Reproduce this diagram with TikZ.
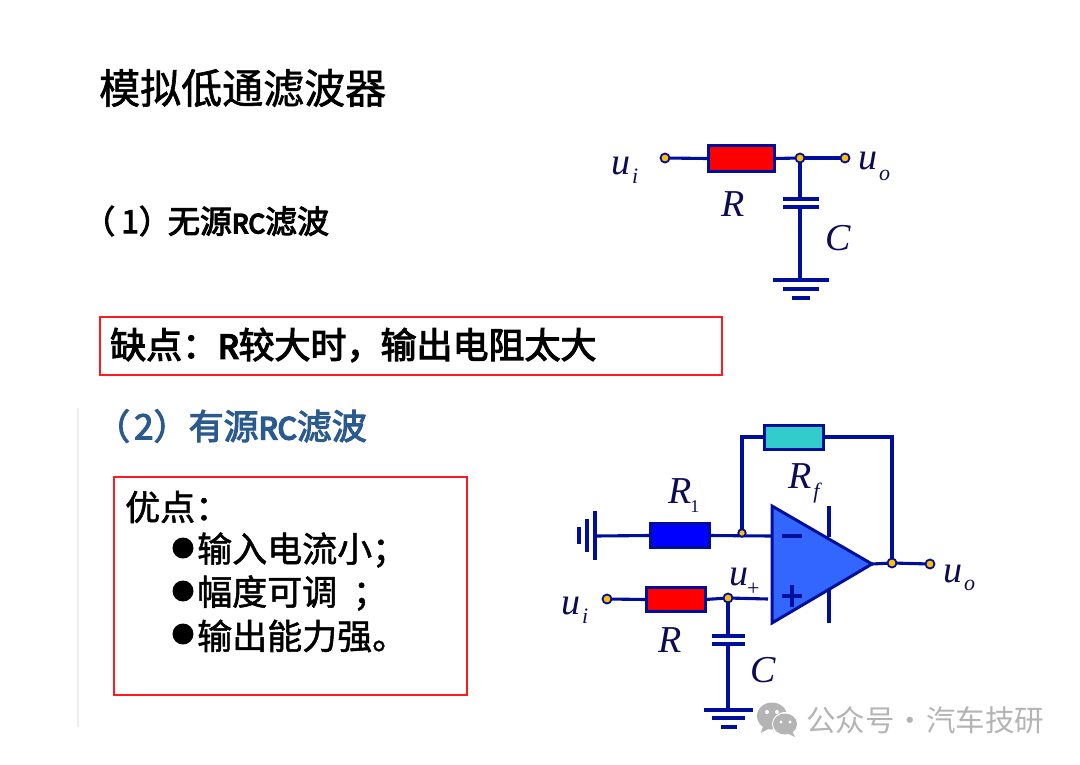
\documentclass[tikz,border=0pt]{standalone}
\usepackage{fontspec}
\setmainfont{Liberation Serif}
\newfontfamily\cjklight{Noto Sans CJK SC}
\newfontfamily\cjk[FakeBold=1.5]{Noto Sans CJK SC}
\newfontfamily\cjkb[FakeBold=3]{Noto Sans CJK SC}
\newfontfamily\cjkbb[FakeBold=6]{Noto Sans CJK SC}
\usetikzlibrary{backgrounds}
\definecolor{wire}{HTML}{000E9C}
\definecolor{dot}{HTML}{FFC000}
\definecolor{ink}{HTML}{0C0C55}
\definecolor{headblue}{HTML}{2B5A8E}
\definecolor{boxred}{HTML}{FF1A1F}
\definecolor{opblue}{HTML}{3366FF}
\definecolor{markgray}{HTML}{B4B4B4}
\newcommand{\lab}[3]{{\fontsize{38}{38}\selectfont\itshape #1}\kern2pt\raisebox{#3}{\fontsize{22}{22}\selectfont\itshape #2}}
\tikzset{
  x=1pt,y=-1pt,
  wireline/.style={draw=wire,line width=3.1pt},
  res/.style={draw=wire,line width=3pt,minimum width=59pt,minimum height=24pt,inner sep=0pt,outer sep=0pt},
  junction/.style={circle,draw=wire,fill=dot,line width=1.8pt,minimum size=9pt,inner sep=0pt,outer sep=0pt},
  elabel/.style={anchor=base west,inner sep=0pt,text=ink},
  plain/.style={anchor=west,inner sep=0pt,text=black},
  redbox/.style={draw=boxred,line width=1.5pt},
}
\begin{document}
\begin{tikzpicture}
\useasboundingbox (0,0) rectangle (1080,764);
\begin{scope}[on background layer]
\fill[white] (0,0) rectangle (1080,764);
\end{scope}
\draw[color=black!7,line width=1.5pt] (78,408) -- (78,727);

% texts
\node[plain] (title) at (99,88) {\cjk\fontsize{41}{41}\selectfont 模拟低通滤波器};
\node[plain] (one) at (83,221) {\cjkb\fontsize{32}{32}\selectfont （\kern6pt1）\kern-3pt无源{\cjkbb\fontsize{26}{26}\selectfont RC}滤波};
\node[plain,text=headblue] (two) at (95,426) {\cjkb\fontsize{35}{35}\selectfont （\kern4pt2）有源{\cjkbb\fontsize{30}{30}\selectfont RC}滤波};
\draw[redbox] (100,317) rectangle (722,375);
\node[plain] (weak) at (110,345) {\cjkb\fontsize{36}{36}\selectfont 缺点：{\cjkbb\fontsize{32}{32}\selectfont R}较大时，\kern-2pt输出电阻太大};
\draw[redbox] (114,477) rectangle (467,695);
\node[plain] (adv) at (125,507) {\cjk\fontsize{35}{35}\selectfont 优点：};
\foreach \yy/\tt in {549/输入电流小；,592/幅度可调\ \ ；,635/输出能力强。}{
  \fill (183,\yy-1) circle (10.5);
  \node[plain] at (197,\yy+1) {\cjk\fontsize{35}{35}\selectfont \tt};
}

% circuit 1
\node[junction] (a1) at (665,158) {};
\node[res,fill=red,minimum width=66pt,minimum height=26pt] (ra) at (741,158.5) {};
\node[junction] (a2) at (800,158) {};
\node[junction] (a3) at (845,158) {};
\coordinate (acu) at (800,199);
\coordinate (acl) at (800,207);
\coordinate (ag) at (800,280);
\draw[wireline] (a1) -- (ra.west);
\draw[wireline] (ra.east) -- (a2);
\draw[wireline] (a2) -- (a3);
\draw[wireline] (a2) -- (acu);
\draw[wireline] (acl) -- (ag);
\draw[wireline] (783,199) -- (819,199);
\draw[wireline] (783,207) -- (819,207);
\draw[wireline] (773,280) -- (829,280);
\draw[wireline] (783,289) -- (819,289);
\draw[wireline] (792,298) -- (810,298);
\node[elabel] (aui) at (611,174) {\lab{u}{i}{-9pt}};
\node[elabel] (auo) at (858,169) {\lab{u}{o}{-11pt}};
\node[elabel] (aR) at (721,216) {\fontsize{38}{38}\selectfont\itshape R};
\node[elabel] (aC) at (825,250) {\fontsize{38}{38}\selectfont\itshape C};

% circuit 2
\node[res,fill=blue] (r1) at (679.5,535.5) {};
\node[res,fill=red] (r2) at (675.5,599.5) {};
\node[res,fill={rgb,255:red,51;green,204;blue,204}] (rf) at (793.5,437) {};
\node[junction,minimum size=7.5pt] (b1) at (742,533) {};
\node[junction] (b2) at (607,599) {};
\node[junction] (b3) at (728,598) {};
\node[junction] (b4) at (892,563) {};
\node[junction] (b5) at (930,564) {};
\coordinate (opa) at (772,506);
\coordinate (opb) at (772,623);
\coordinate (opc) at (872,564);
\coordinate (opm) at (772,536);
\coordinate (opp) at (768,599);
\coordinate (gl) at (595,536);
\coordinate (bcu) at (728,636);
\coordinate (bcl) at (728,644);
\coordinate (bg) at (728,710);
\coordinate (fbr) at (892,437);
\begin{scope}[on background layer]
\draw[wireline] (gl) -- (r1.west);
\draw[wireline] (r1.east) -- (opm);
\end{scope}
\draw[wireline,line join=miter] (b1) |- (rf.west);
\draw[wireline,line join=miter] (rf.east) -- (fbr) -- (b4);
\draw[wireline] (opc) -- (b4);
\draw[wireline] (b4) -- (b5);
\draw[wireline] (b2) -- (r2.west);
\draw[wireline] (r2.east) -- (b3);
\draw[wireline] (b3) -- (opp);
\draw[wireline] (b3) -- (bcu);
\draw[wireline] (bcl) -- (bg);
\draw[wireline] (712,636) -- (745,636);
\draw[wireline] (712,644) -- (745,644);
\draw[wireline] (704,710) -- (753,710);
\draw[wireline] (712,718) -- (745,718);
\draw[wireline] (721,727) -- (737,727);
\draw[wireline] (595,511) -- (595,560);
\draw[wireline] (587,519) -- (587,552);
\draw[wireline] (579,527) -- (579,544);
\draw[wireline] (829,506) -- (829,537);
\draw[wireline] (829,590) -- (829,623);
\draw[draw=wire,fill=opblue,line width=3pt,line join=miter] (opa) -- (opc) -- (opb) -- cycle;
\draw[wire,line width=4pt] (782,536) -- (802,536);
\draw[wire,line width=4pt] (782,596) -- (802,596);
\draw[wire,line width=4pt] (792,585) -- (792,607);
\node[elabel] (bR1) at (668,503) {\fontsize{38}{38}\selectfont\itshape R\kern-1pt\raisebox{-9pt}{\fontsize{18}{18}\selectfont\upshape 1}};
\node[elabel] (bRf) at (788,488) {\lab{R}{f}{-10pt}};
\node[elabel] (bup) at (729,585) {{\fontsize{38}{38}\selectfont\itshape u}\kern-1pt\raisebox{-10pt}{\fontsize{22}{22}\selectfont +}};
\node[elabel] (bui) at (561,614) {\lab{u}{i}{-9pt}};
\node[elabel] (buo) at (943,582) {\lab{u}{o}{-8pt}};
\node[elabel] (bR) at (658,652) {\fontsize{38}{38}\selectfont\itshape R};
\node[elabel] (bC) at (750,682) {\fontsize{38}{38}\selectfont\itshape C};

% watermark
\fill[markgray] (772,716) ellipse (15 and 13.5);
\fill[markgray] (763,726) -- (761,733) -- (770,728) -- cycle;
\fill[white] (785.5,724) ellipse (13.5 and 12);
\fill[markgray] (785,724) ellipse (12 and 10.5);
\fill[markgray] (792,731) -- (795,737) -- (787,733) -- cycle;
\fill[white] (767,712) circle (2) (777,712) circle (2) (781,722) circle (1.6) (790,722) circle (1.6);
\node[plain,text=markgray] (mark) at (806,720) {\cjklight\fontsize{29.5}{29.5}\selectfont 公众号\ \kern-6pt·\ \kern-5pt汽车技研};
\end{tikzpicture}
\end{document}
